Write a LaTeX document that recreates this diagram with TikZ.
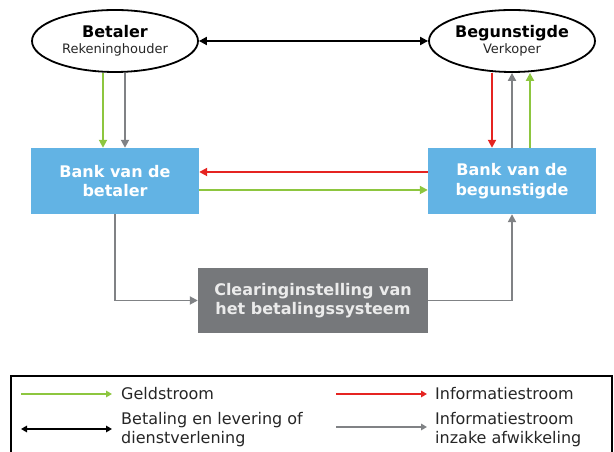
\documentclass[tikz,border=0pt]{standalone}
\usepackage{fontspec}
\setmainfont{DejaVu Sans}
\usetikzlibrary{shapes.geometric,arrows.meta}
\definecolor{geld}{HTML}{8DC63F}
\definecolor{info}{HTML}{E52421}
\definecolor{afw}{HTML}{808285}
\definecolor{bankblauw}{HTML}{62B3E4}
\definecolor{clearing}{HTML}{76787B}
\definecolor{tekst}{HTML}{262626}

\begin{document}
\begin{tikzpicture}[x=1pt,y=1pt,
    partij/.style={ellipse,draw,line width=1.8pt,minimum width=166pt,minimum height=62pt,inner sep=0pt,align=center,
        font=\fontsize{16}{17}\selectfont\bfseries},
    bank/.style={rectangle,fill=bankblauw,minimum width=168pt,minimum height=66pt,align=center,text=white,
        font=\fontsize{16}{19.5}\selectfont\bfseries},
    pijl/.style={line width=1.9pt,-{Triangle[length=8pt,width=8pt]}},
    legpijl/.style={line width=1.7pt,-{Triangle[length=6pt,width=6.5pt]}},
    legtekst/.style={anchor=west,inner sep=0pt,align=left,text=tekst,font=\fontsize{16}{19}\selectfont}]
    \useasboundingbox (0,0) rectangle (614,452);

    % partijen
    \node[partij] (betaler) at (115,411) {Betaler\\[-1pt]{\fontsize{13}{15}\selectfont\mdseries\color{tekst}Rekeninghouder}};
    \node[partij] (begunst) at (512,411) {Begunstigde\\[-1pt]{\fontsize{13}{15}\selectfont\mdseries\color{tekst}Verkoper}};
    \draw[line width=1.9pt,{Triangle[length=8pt,width=8pt]}-{Triangle[length=8pt,width=8pt]}] (betaler.east)--(begunst.west);

    % banken
    \node[bank] (bankbet) at (115,271) {Bank van de\\betaler};
    \node[bank] (bankbeg) at (512,271) {Bank van de\\begunstigde};
    \node[rectangle,fill=clearing,minimum width=230pt,minimum height=65pt,align=center,text=white!92!black,
        font=\fontsize{16}{19}\selectfont\bfseries] (clear) at (313,151.5) {Clearinginstelling van\\het betalingssysteem};

    \draw[pijl,geld] ([xshift=-12pt]betaler.south)--([xshift=-12pt]bankbet.north);
    \draw[pijl,afw] ([xshift=10pt]betaler.south)--([xshift=10pt]bankbet.north);
    \draw[pijl,info] ([xshift=-20pt]begunst.south)--([xshift=-20pt]bankbeg.north);
    \draw[pijl,afw] (bankbeg.north)--(begunst.south);
    \draw[pijl,geld] ([xshift=18pt]bankbeg.north)--([xshift=18pt]begunst.south);
    \draw[pijl,info] ([yshift=9pt]bankbeg.west)--([yshift=9pt]bankbet.east);
    \draw[pijl,geld] ([yshift=-9pt]bankbet.east)--([yshift=-9pt]bankbeg.west);
    \draw[pijl,afw] (bankbet.south) |- (clear.west);
    \draw[pijl,afw] (clear.east) -| (bankbeg.south);

    % legenda
    \draw[line width=1.8pt] (612,-20)--(11,-20)--(11,76)--(612,76)--(612,-20);
    \node[legtekst] (tgeld) at (121,58) {Geldstroom};
    \node[legtekst] (tlev) at (121,22.5) {Betaling en levering of\\dienstverlening};
    \node[legtekst] (tinfo) at (435,58) {Informatiestroom};
    \node[legtekst] (tafw) at (435,22.5) {Informatiestroom\\inzake afwikkeling};
    \coordinate (lgeld) at (21,58);
    \coordinate (llev) at (21,23);
    \coordinate (linfo) at (336,58);
    \coordinate (lafw) at (336,25);
    \draw[legpijl,geld] (lgeld)--([xshift=-9pt]tgeld.west);
    \draw[line width=1.7pt,{Triangle[length=6pt,width=6.5pt]}-{Triangle[length=6pt,width=6.5pt]}] (llev)--([xshift=-9pt]tlev.west |- llev);
    \draw[legpijl,info] (linfo)--([xshift=-8pt]tinfo.west);
    \draw[legpijl,afw] (lafw)--([xshift=-8pt]tafw.west |- lafw);
\end{tikzpicture}
\end{document}
